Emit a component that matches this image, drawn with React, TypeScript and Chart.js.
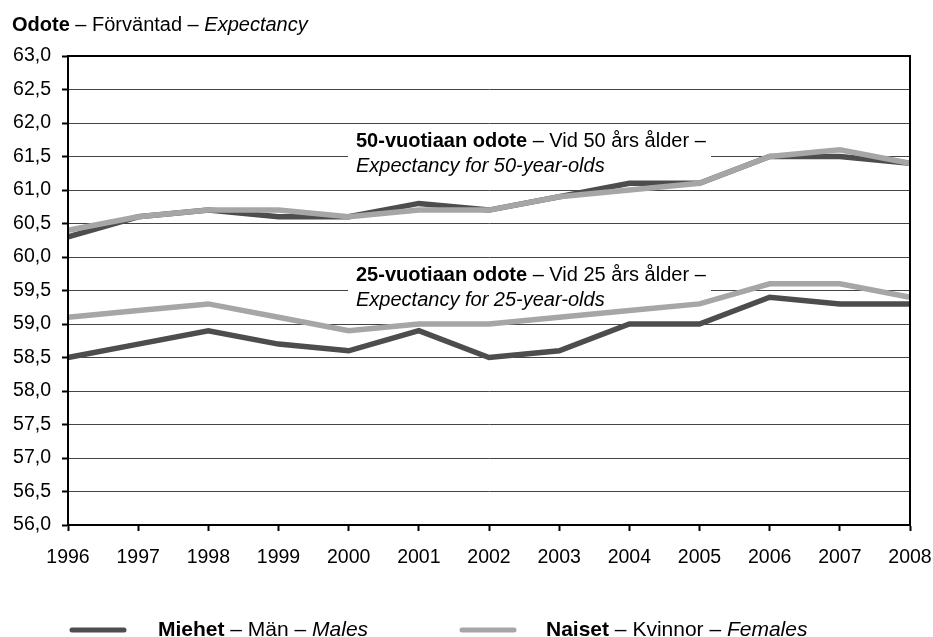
import React, { useEffect, useRef } from 'react';
import { Chart, registerables } from 'chart.js';

Chart.register(...registerables);

// ---- data ----
const years = ['1996', '1997', '1998', '1999', '2000', '2001', '2002', '2003', '2004', '2005', '2006', '2007', '2008'];
const males50 = [60.3, 60.6, 60.7, 60.6, 60.6, 60.8, 60.7, 60.9, 61.1, 61.1, 61.5, 61.5, 61.4];
const females50 = [60.4, 60.6, 60.7, 60.7, 60.6, 60.7, 60.7, 60.9, 61.0, 61.1, 61.5, 61.6, 61.4];
const males25 = [58.5, 58.7, 58.9, 58.7, 58.6, 58.9, 58.5, 58.6, 59.0, 59.0, 59.4, 59.3, 59.3];
const females25 = [59.1, 59.2, 59.3, 59.1, 58.9, 59.0, 59.0, 59.1, 59.2, 59.3, 59.6, 59.6, 59.4];

const yMin = 56;
const yMax = 63;
const yStep = 0.5;

const titleParts: [string, string][] = [['Odote', 'bold'], [' – Förväntad – ', 'normal'], ['Expectancy', 'italic']];
const maleLabel: [string, string][] = [['Miehet', 'bold'], [' – Män – ', 'normal'], ['Males', 'italic']];
const femaleLabel: [string, string][] = [['Naiset', 'bold'], [' – Kvinnor – ', 'normal'], ['Females', 'italic']];
const annotation50 = {
  value: 61.5,
  line1: [['50-vuotiaan odote', 'bold'], [' – Vid 50 års ålder –', 'normal']] as [string, string][],
  line2: [['Expectancy for 50-year-olds', 'italic']] as [string, string][],
};
const annotation25 = {
  value: 59.5,
  line1: [['25-vuotiaan odote', 'bold'], [' – Vid 25 års ålder –', 'normal']] as [string, string][],
  line2: [['Expectancy for 25-year-olds', 'italic']] as [string, string][],
};

// ---- styles ----
const MALE = '#4d4d4d';
const FEMALE = '#a6a6a6';
const FAMILY = '"Liberation Sans", Arial, Helvetica, sans-serif';

function fontFor(style: string, size: number) {
  if (style === 'bold') return `bold ${size}px ${FAMILY}`;
  if (style === 'italic') return `italic ${size}px ${FAMILY}`;
  return `${size}px ${FAMILY}`;
}

function drawRich(ctx: CanvasRenderingContext2D, x: number, y: number, parts: [string, string][], size: number) {
  let cx = x;
  ctx.textAlign = 'left';
  ctx.textBaseline = 'alphabetic';
  ctx.fillStyle = '#000';
  for (const [text, style] of parts) {
    ctx.font = fontFor(style, size);
    ctx.fillText(text, cx, y);
    cx += ctx.measureText(text).width;
  }
}

const decorPlugin = {
  id: 'decor',
  beforeDatasetsDraw(chart: any) {
    const ctx = chart.ctx as CanvasRenderingContext2D;
    const y = chart.scales.y;
    ctx.save();
    for (const ann of [annotation50, annotation25]) {
      const gy = y.getPixelForValue(ann.value);
      ctx.fillStyle = '#fff';
      ctx.fillRect(348, gy - 26, 363, 48);
      drawRich(ctx, 356, gy - 10, ann.line1, 20);
      drawRich(ctx, 356, gy + 15, ann.line2, 20);
    }
    ctx.restore();
  },
  afterDatasetsDraw(chart: any) {
    const ctx = chart.ctx as CanvasRenderingContext2D;
    const a = chart.chartArea;
    ctx.save();
    ctx.strokeStyle = '#000';
    ctx.lineWidth = 2;
    ctx.strokeRect(a.left, a.top, a.right - a.left, a.bottom - a.top);
    ctx.restore();
  },
  afterDraw(chart: any) {
    const ctx = chart.ctx as CanvasRenderingContext2D;
    ctx.save();
    // title
    drawRich(ctx, 12, 30.5, titleParts, 20);
    // legend
    ctx.lineCap = 'round';
    ctx.lineWidth = 5;
    ctx.strokeStyle = MALE;
    ctx.beginPath();
    ctx.moveTo(72, 630);
    ctx.lineTo(124, 630);
    ctx.stroke();
    drawRich(ctx, 158, 636, maleLabel, 21);
    ctx.strokeStyle = FEMALE;
    ctx.beginPath();
    ctx.moveTo(462, 630);
    ctx.lineTo(514, 630);
    ctx.stroke();
    drawRich(ctx, 546, 636, femaleLabel, 21);
    ctx.restore();
  },
};

export default function App() {
  const ref = useRef<HTMLCanvasElement | null>(null);

  useEffect(() => {
    document.body.style.margin = '0';
    const canvas = ref.current;
    if (!canvas) return;
    const lineDs = (label: string, data: number[], color: string, order: number) => ({
      label,
      data,
      borderColor: color,
      backgroundColor: color,
      borderWidth: 5.5,
      pointRadius: 0,
      pointHoverRadius: 0,
      tension: 0,
      fill: false,
      order,
    });
    const chart = new Chart(canvas, {
      type: 'line',
      data: {
        labels: years,
        datasets: [
          lineDs('Miehet 50', males50, MALE, 2),
          lineDs('Miehet 25', males25, MALE, 2),
          lineDs('Naiset 50', females50, FEMALE, 1),
          lineDs('Naiset 25', females25, FEMALE, 1),
        ],
      },
      options: {
        responsive: false,
        animation: false,
        events: [],
        layout: { padding: { top: 56, right: 23, left: 0, bottom: 0 } },
        plugins: {
          legend: { display: false },
          tooltip: { enabled: false },
          title: { display: false },
        },
        scales: {
          x: {
            type: 'category',
            offset: false,
            afterFit: (s: any) => { s.height = 112; s.paddingRight = 0; s.paddingLeft = 0; },
            grid: {
              drawOnChartArea: false,
              drawTicks: true,
              tickLength: 6,
              tickColor: '#000',
              tickWidth: 2,
            },
            border: { display: true, color: '#000', width: 2 },
            ticks: {
              color: '#000',
              font: { family: FAMILY, size: 19.5 },
              padding: 15,
              maxRotation: 0,
              autoSkip: false,
            },
          },
          y: {
            min: yMin,
            max: yMax,
            afterFit: (s: any) => { s.width = 68; s.paddingTop = 0; s.paddingBottom = 0; },
            grid: {
              color: '#444',
              lineWidth: 1,
              drawTicks: true,
              tickLength: 6,
              tickColor: '#000',
              tickWidth: 2,
            },
            border: { display: true, color: '#000', width: 2 },
            ticks: {
              stepSize: yStep,
              color: '#000',
              font: { family: FAMILY, size: 19.5 },
              padding: 11,
              callback: (v: any) => Number(v).toFixed(1).replace('.', ','),
            },
          },
        },
      },
      plugins: [decorPlugin],
    });
    return () => chart.destroy();
  }, []);

  return (
    <div style={{ width: 933, height: 637, position: 'relative', background: '#fff' }}>
      <canvas ref={ref} width={933} height={637} style={{ display: 'block' }} />
    </div>
  );
}
